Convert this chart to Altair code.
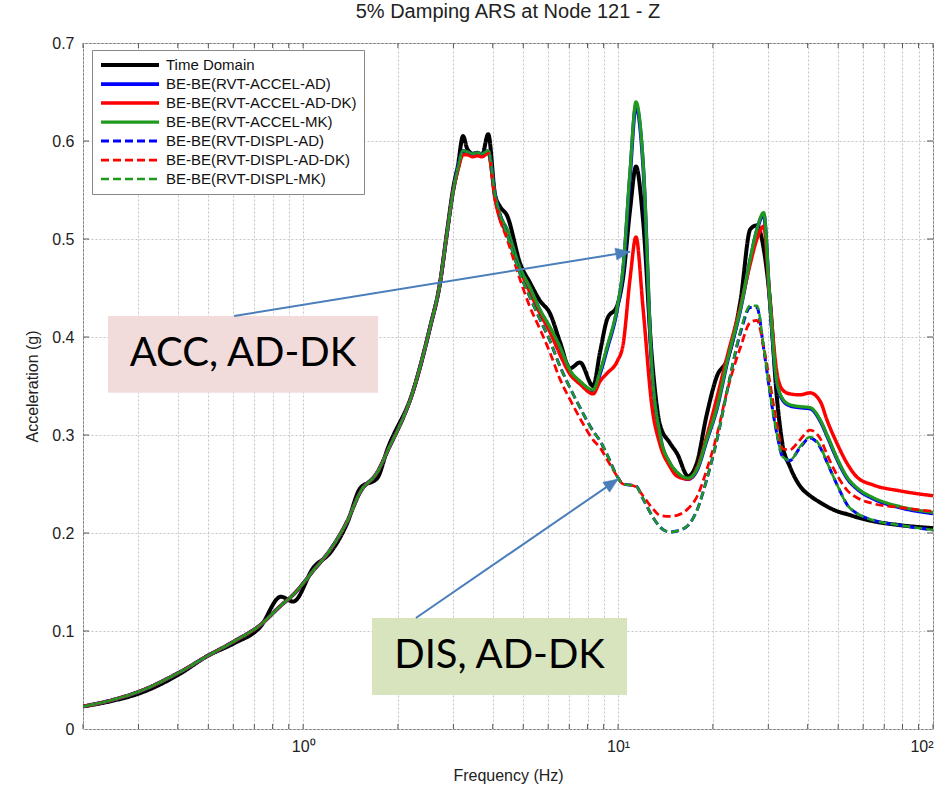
import math
import altair as alt
import pandas as pd

# ---------------- data ----------------
FREQ = [0.2, 0.25, 0.3, 0.4, 0.5, 0.6, 0.73, 0.85, 0.93, 1.08,
        1.22, 1.38, 1.52, 1.72, 1.85, 2.24, 2.53, 2.72, 2.86, 3.0,
        3.1, 3.22, 3.32, 3.46, 3.57, 3.7, 3.87, 4.07, 4.22, 4.44,
        4.89, 5.26, 5.65, 6.08, 6.54, 7.04, 7.57, 8.33, 8.77, 9.23,
        9.93, 10.37, 10.92, 11.4, 12.0, 12.8, 13.6, 14.6, 15.4, 16.7,
        17.8, 19.1, 20.6, 22.2, 24.5, 26.3, 27.6, 29.0, 30.3, 31.9,
        33.3, 35.1, 37.8, 40.7, 43.9, 46.1, 49.8, 53.6, 57.4, 64.6,
        78.5, 100.0]

TIME_DOMAIN = [0.023, 0.029, 0.036, 0.055, 0.075, 0.087, 0.104, 0.135, 0.130, 0.165,
               0.180, 0.210, 0.246, 0.256, 0.285, 0.346, 0.410, 0.455, 0.506, 0.553,
               0.575, 0.605, 0.592, 0.587, 0.588, 0.586, 0.607, 0.545, 0.533, 0.524,
               0.475, 0.455, 0.437, 0.424, 0.395, 0.368, 0.374, 0.350, 0.385, 0.418,
               0.432, 0.460, 0.530, 0.574, 0.520, 0.380, 0.310, 0.292, 0.281, 0.258,
               0.272, 0.320, 0.360, 0.377, 0.438, 0.510, 0.514, 0.490, 0.440, 0.340,
               0.290, 0.268, 0.248, 0.238, 0.231, 0.227, 0.222, 0.219, 0.216, 0.212,
               0.208, 0.205]

ACCEL_AD = [0.023, 0.030, 0.038, 0.057, 0.075, 0.089, 0.106, 0.126, 0.137, 0.162,
            0.183, 0.212, 0.242, 0.262, 0.283, 0.346, 0.410, 0.455, 0.505, 0.550,
            0.572, 0.589, 0.588, 0.586, 0.587, 0.586, 0.589, 0.544, 0.524, 0.509,
            0.469, 0.449, 0.427, 0.409, 0.389, 0.365, 0.354, 0.345, 0.363, 0.388,
            0.428, 0.468, 0.566, 0.636, 0.577, 0.368, 0.299, 0.271, 0.261, 0.255,
            0.264, 0.294, 0.327, 0.374, 0.429, 0.479, 0.509, 0.525, 0.438, 0.354,
            0.336, 0.330, 0.328, 0.327, 0.314, 0.299, 0.274, 0.255, 0.245, 0.235,
            0.226, 0.220]

ACCEL_AD_DK = [0.023, 0.030, 0.038, 0.057, 0.075, 0.089, 0.106, 0.126, 0.137, 0.162,
               0.183, 0.212, 0.242, 0.262, 0.283, 0.346, 0.410, 0.455, 0.505, 0.550,
               0.570, 0.586, 0.586, 0.584, 0.585, 0.584, 0.588, 0.540, 0.520, 0.505,
               0.468, 0.445, 0.424, 0.405, 0.382, 0.362, 0.352, 0.342, 0.355, 0.363,
               0.375, 0.392, 0.460, 0.502, 0.430, 0.330, 0.290, 0.268, 0.258, 0.255,
               0.266, 0.298, 0.338, 0.380, 0.432, 0.475, 0.500, 0.513, 0.440, 0.365,
               0.346, 0.342, 0.341, 0.343, 0.334, 0.315, 0.290, 0.270, 0.257, 0.249,
               0.243, 0.238]

ACCEL_MK = [0.023, 0.030, 0.038, 0.057, 0.075, 0.089, 0.106, 0.126, 0.137, 0.162,
            0.183, 0.212, 0.242, 0.262, 0.283, 0.346, 0.410, 0.455, 0.505, 0.550,
            0.572, 0.590, 0.589, 0.587, 0.588, 0.587, 0.590, 0.545, 0.525, 0.510,
            0.470, 0.450, 0.428, 0.410, 0.390, 0.366, 0.355, 0.346, 0.365, 0.390,
            0.430, 0.470, 0.570, 0.640, 0.580, 0.370, 0.300, 0.272, 0.262, 0.256,
            0.265, 0.295, 0.328, 0.375, 0.430, 0.480, 0.510, 0.527, 0.440, 0.355,
            0.337, 0.331, 0.329, 0.328, 0.315, 0.300, 0.275, 0.256, 0.246, 0.236,
            0.227, 0.221]

DISPL_AD = [0.023, 0.030, 0.038, 0.057, 0.075, 0.089, 0.106, 0.126, 0.137, 0.162,
            0.183, 0.212, 0.242, 0.262, 0.283, 0.346, 0.410, 0.455, 0.505, 0.550,
            0.572, 0.590, 0.589, 0.587, 0.588, 0.587, 0.590, 0.545, 0.525, 0.505,
            0.464, 0.440, 0.418, 0.396, 0.370, 0.348, 0.328, 0.304, 0.294, 0.280,
            0.258, 0.250, 0.249, 0.248, 0.235, 0.218, 0.206, 0.201, 0.202, 0.208,
            0.223, 0.254, 0.295, 0.345, 0.405, 0.430, 0.430, 0.388, 0.345, 0.302,
            0.278, 0.274, 0.287, 0.297, 0.287, 0.272, 0.248, 0.228, 0.220, 0.213,
            0.208, 0.203]

DISPL_AD_DK = [0.023, 0.030, 0.038, 0.057, 0.075, 0.089, 0.106, 0.126, 0.137, 0.162,
               0.183, 0.212, 0.242, 0.262, 0.283, 0.346, 0.410, 0.455, 0.505, 0.550,
               0.570, 0.586, 0.586, 0.584, 0.585, 0.584, 0.588, 0.540, 0.520, 0.500,
               0.458, 0.430, 0.408, 0.384, 0.357, 0.336, 0.317, 0.295, 0.287, 0.275,
               0.258, 0.250, 0.249, 0.247, 0.238, 0.226, 0.218, 0.217, 0.218, 0.225,
               0.237, 0.264, 0.300, 0.345, 0.390, 0.415, 0.417, 0.390, 0.355, 0.312,
               0.286, 0.285, 0.295, 0.305, 0.296, 0.280, 0.258, 0.243, 0.236, 0.230,
               0.226, 0.222]

DISPL_MK = [0.023, 0.030, 0.038, 0.057, 0.075, 0.089, 0.106, 0.126, 0.137, 0.162,
            0.183, 0.212, 0.242, 0.262, 0.283, 0.346, 0.410, 0.455, 0.505, 0.550,
            0.572, 0.590, 0.589, 0.587, 0.588, 0.587, 0.590, 0.545, 0.525, 0.505,
            0.464, 0.440, 0.418, 0.396, 0.370, 0.348, 0.328, 0.304, 0.294, 0.280,
            0.258, 0.250, 0.249, 0.248, 0.235, 0.218, 0.206, 0.201, 0.202, 0.208,
            0.223, 0.254, 0.295, 0.345, 0.407, 0.432, 0.432, 0.390, 0.345, 0.302,
            0.278, 0.274, 0.288, 0.298, 0.288, 0.272, 0.248, 0.228, 0.220, 0.213,
            0.208, 0.203]

SERIES_NAMES = ["Time Domain", "BE-BE(RVT-ACCEL-AD)", "BE-BE(RVT-ACCEL-AD-DK)",
                "BE-BE(RVT-ACCEL-MK)", "BE-BE(RVT-DISPL-AD)", "BE-BE(RVT-DISPL-AD-DK)",
                "BE-BE(RVT-DISPL-MK)"]
SERIES_VALUES = [TIME_DOMAIN, ACCEL_AD, ACCEL_AD_DK, ACCEL_MK, DISPL_AD, DISPL_AD_DK, DISPL_MK]

X_TICKS = [0.2, 0.3, 0.4, 0.5, 0.6, 0.7, 0.8, 0.9, 1, 2, 3, 4, 5, 6, 7, 8, 9,
           10, 20, 30, 40, 50, 60, 70, 80, 90, 100]
Y_TICKS = [0, 0.1, 0.2, 0.3, 0.4, 0.5, 0.6, 0.7]

# annotations (text boxes and arrows), in data coordinates
BOX_LABELS = ["ACC, AD-DK", "DIS, AD-DK"]
BOX_F0 = [0.240, 1.655]
BOX_F1 = [1.73, 10.68]
BOX_A0 = [0.343, 0.0347]
BOX_A1 = [0.4214, 0.1133]
ARROW_F0 = [0.604, 2.28]
ARROW_A0 = [0.4214, 0.1133]
ARROW_F1 = [10.92, 10.0]
ARROW_A1 = [0.487, 0.255]

# ---------------- styling ----------------
W, H = 850, 686
XMIN, XMAX, YMAX = 0.2, 100.0, 0.7
SERIES_COLORS = ["#000000", "#0000ff", "#ff0000", "#1f9a1f", "#0000ff", "#ff0000", "#1f9a1f"]
SERIES_DASH = [[1, 0], [1, 0], [1, 0], [1, 0], [8, 4], [8, 4], [8, 4]]
SERIES_WIDTH = [4, 2.5, 2.5, 2.5, 2.5, 2.5, 2.5]
BOX_FILLS = ["#f2dcdb", "#d7e4bd"]
ARROW_COLOR = "#4a7ebb"
FONT = "Liberation Sans"

rows = []
for name, vals in zip(SERIES_NAMES, SERIES_VALUES):
    for f, v in zip(FREQ, vals):
        rows.append({"series": name, "freq": f, "acc": v})
df = pd.DataFrame(rows)

xscale = alt.Scale(type="log", domain=[XMIN, XMAX], nice=False)
yscale = alt.Scale(domain=[0, YMAX], nice=False)

AX_X = alt.Axis(values=X_TICKS, title="Frequency (Hz)", grid=True,
                gridDash=[2, 2], gridColor="#c4c4c4", ticks=False, domain=False,
                labelExpr="datum.value == 1 ? '10⁰' : datum.value == 10 ? '10¹' : datum.value == 100 ? '10²' : ''",
                labelOverlap=False, labelFontSize=16, titleFontSize=16,
                labelPadding=9, titlePadding=13)
AX_Y = alt.Axis(values=Y_TICKS, title="Acceleration (g)", grid=True,
                gridDash=[2, 2], gridColor="#c4c4c4", ticks=False, domain=False,
                labelExpr="datum.value == 0 ? '0' : format(datum.value, '.1f')",
                labelFontSize=16, titleFontSize=16, labelPadding=9, titlePadding=11)

legend = alt.Legend(title=None, orient="none", legendX=9, legendY=7,
                    symbolType="stroke", symbolSize=3364, clipHeight=16,
                    labelFontSize=15, labelFont=FONT, labelColor="#111",
                    labelLimit=400, labelOffset=5, padding=7, rowPadding=3,
                    fillColor="white", strokeColor="#888", symbolStrokeWidth=2.5)

lines = alt.Chart(df).mark_line(interpolate="monotone", clip=True).encode(
    x=alt.X("freq:Q", scale=xscale, axis=AX_X),
    y=alt.Y("acc:Q", scale=yscale, axis=AX_Y),
    color=alt.Color("series:N", scale=alt.Scale(domain=SERIES_NAMES, range=SERIES_COLORS), legend=legend),
    strokeDash=alt.StrokeDash("series:N", scale=alt.Scale(domain=SERIES_NAMES, range=SERIES_DASH), legend=legend),
    strokeWidth=alt.StrokeWidth("series:N", scale=alt.Scale(domain=SERIES_NAMES, range=SERIES_WIDTH), legend=legend),
)

# inward ticks (MATLAB style)
xt = pd.DataFrame({"freq": X_TICKS})
yt = pd.DataFrame({"acc": Y_TICKS[1:-1]})
tick_color = "#555"
xt_bot = alt.Chart(xt).mark_rule(color=tick_color).encode(
    x=alt.X("freq:Q", scale=xscale, axis=AX_X), y=alt.value(H), y2=alt.value(H - 5))
xt_top = alt.Chart(xt).mark_rule(color=tick_color).encode(
    x=alt.X("freq:Q", scale=xscale, axis=AX_X), y=alt.value(0), y2=alt.value(5))
yt_left = alt.Chart(yt).mark_rule(color=tick_color).encode(
    y=alt.Y("acc:Q", scale=yscale, axis=AX_Y), x=alt.value(0), x2=alt.value(6))
yt_right = alt.Chart(yt).mark_rule(color=tick_color).encode(
    y=alt.Y("acc:Q", scale=yscale, axis=AX_Y), x=alt.value(W), x2=alt.value(W - 6))

# annotation boxes
boxes_df = pd.DataFrame({
    "label": BOX_LABELS, "f0": BOX_F0, "f1": BOX_F1, "a0": BOX_A0, "a1": BOX_A1,
    "fill": BOX_FILLS,
    "fc": [math.sqrt(a * b) for a, b in zip(BOX_F0, BOX_F1)],
    "ac": [(a + b) / 2 for a, b in zip(BOX_A0, BOX_A1)],
})
boxes = alt.Chart(boxes_df).mark_rect().encode(
    x=alt.X("f0:Q", scale=xscale, axis=AX_X), x2="f1:Q",
    y=alt.Y("a0:Q", scale=yscale, axis=AX_Y), y2="a1:Q",
    fill=alt.Fill("fill:N", scale=None))
box_text = alt.Chart(boxes_df).mark_text(font="Lato", fontSize=40, color="black",
                                         baseline="middle", align="center").encode(
    x=alt.X("fc:Q", scale=xscale, axis=AX_X),
    y=alt.Y("ac:Q", scale=yscale, axis=AX_Y),
    text="label:N")


def px(f):
    return W * (math.log10(f) - math.log10(XMIN)) / (math.log10(XMAX) - math.log10(XMIN))


def py(a):
    return H * (1 - a / YMAX)


angles = []
for f0, a0, f1, a1 in zip(ARROW_F0, ARROW_A0, ARROW_F1, ARROW_A1):
    dx = px(f1) - px(f0)
    dy = py(a1) - py(a0)
    angles.append(math.degrees(math.atan2(dx, -dy)) % 360)

arrows_df = pd.DataFrame({"f0": ARROW_F0, "a0": ARROW_A0, "f1": ARROW_F1, "a1": ARROW_A1,
                          "ang": angles})
arrow_lines = alt.Chart(arrows_df).mark_rule(color=ARROW_COLOR, strokeWidth=2).encode(
    x=alt.X("f0:Q", scale=xscale, axis=AX_X), x2="f1:Q",
    y=alt.Y("a0:Q", scale=yscale, axis=AX_Y), y2="a1:Q")
arrow_heads = alt.Chart(arrows_df).mark_point(
    shape="M0,0L1,2.4L-1,2.4Z", size=144, filled=True, fill=ARROW_COLOR,
    stroke=ARROW_COLOR, strokeWidth=0.5, opacity=1).encode(
    x=alt.X("f1:Q", scale=xscale, axis=AX_X),
    y=alt.Y("a1:Q", scale=yscale, axis=AX_Y),
    angle=alt.Angle("ang:Q", scale=None))

chart = alt.layer(
    lines, xt_bot, xt_top, yt_left, yt_right, boxes, box_text, arrow_lines, arrow_heads
).properties(
    width=W, height=H,
    title=alt.TitleParams("5% Damping ARS at Node 121 - Z", fontSize=20, font=FONT,
                          fontWeight="normal", anchor="middle", offset=13, color="#222"),
    padding={"left": 83, "top": 43, "right": 14, "bottom": 62},
    autosize=alt.AutoSizeParams(type="none"),
    background="white",
).configure_view(
    stroke="#777", strokeWidth=1
).configure_axis(
    labelFont=FONT, titleFont=FONT, labelColor="#222", titleColor="#222",
    titleFontWeight="normal"
)

chart.save("out.html", embed_options={"renderer": "svg", "actions": False})
